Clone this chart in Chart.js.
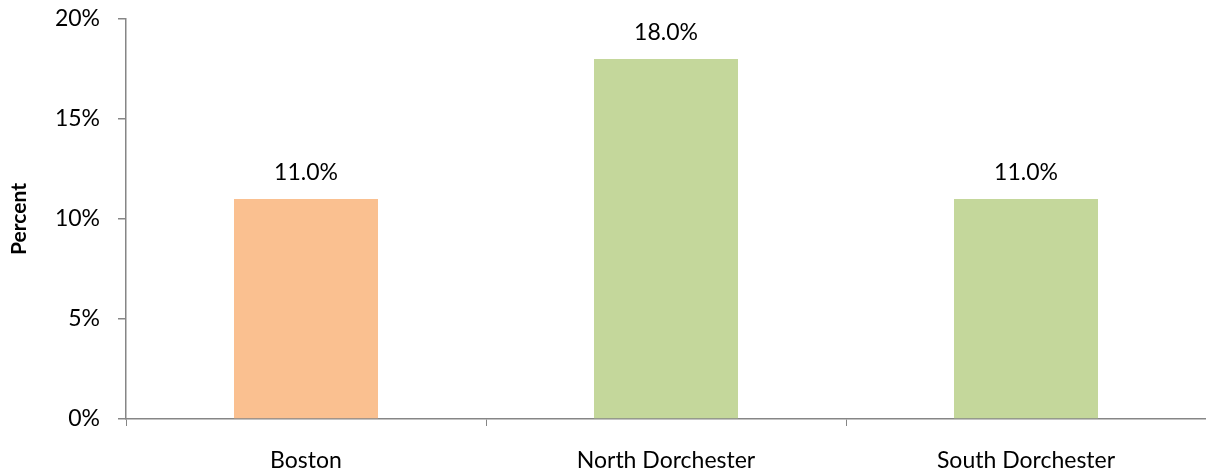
<!DOCTYPE html>
<html>
<head>
<meta charset="utf-8">
<script src="https://cdn.jsdelivr.net/npm/chart.js@4"></script>
<style>
  html, body { margin: 0; padding: 0; background: #fff; }
  #wrap { width: 1206px; height: 474px; }
</style>
</head>
<body>
<div id="wrap"><canvas id="bar-chart"></canvas></div>
<script>
var categories = ['Boston', 'North Dorchester', 'South Dorchester'];
var percentValues = [11.0, 18.0, 11.0];
var barColors = ['#FAC090', '#C4D79B', '#C4D79B'];
var yTicks = [0, 5, 10, 15, 20];

var axisGray = '#868686';
var fontFamily = 'Lato, "Liberation Sans", sans-serif';

const valueLabels = {
  id: 'valueLabels',
  afterDatasetsDraw: (chart) => {
    const {ctx} = chart;
    const meta = chart.getDatasetMeta(0);
    ctx.save();
    ctx.fillStyle = '#000';
    ctx.font = '23px ' + fontFamily;
    ctx.textAlign = 'center';
    ctx.textBaseline = 'alphabetic';
    meta.data.forEach(function(bar, i) {
      ctx.fillText(percentValues[i].toFixed(1) + '%', bar.x, bar.y - 19);
    });
    ctx.restore();
  }
};

var config = {
  type: 'bar',
  data: {
    labels: categories,
    datasets: [{
      data: percentValues,
      backgroundColor: barColors,
      borderWidth: 0,
      barPercentage: 0.4,
      categoryPercentage: 1.0
    }]
  },
  options: {
    responsive: true,
    maintainAspectRatio: false,
    animation: false,
    layout: {
      padding: { top: 19, right: 0, left: 0, bottom: 0 }
    },
    plugins: {
      legend: { display: false },
      tooltip: { enabled: false }
    },
    scales: {
      x: {
        grid: {
          offset: true,
          drawOnChartArea: false,
          drawTicks: true,
          tickLength: 7,
          color: axisGray,
          lineWidth: 1
        },
        border: { color: axisGray, width: 1.5 },
        ticks: {
          color: '#000',
          padding: 21,
          font: { family: fontFamily, size: 23 }
        },
        afterFit: function(axis) {
          axis.height = 55;
          axis.paddingLeft = 0;
          axis.paddingRight = 0;
        }
      },
      y: {
        min: 0,
        max: 20,
        afterBuildTicks: function(axis) {
          axis.ticks = yTicks.map(function(v) { return {value: v}; });
        },
        grid: {
          drawOnChartArea: false,
          drawTicks: true,
          tickLength: 8,
          color: axisGray,
          lineWidth: 1.5
        },
        border: { color: axisGray, width: 1.5 },
        ticks: {
          color: '#000',
          padding: 18,
          font: { family: fontFamily, size: 23 },
          callback: function(v) { return v + '%'; }
        },
        title: {
          display: true,
          text: 'Percent',
          color: '#000',
          padding: { top: 7, bottom: 4 },
          font: { family: fontFamily, size: 21, weight: 'bold' }
        },
        afterFit: function(axis) {
          axis.width = 126;
          axis.paddingTop = 0;
          axis.paddingBottom = 0;
        }
      }
    }
  },
  plugins: [valueLabels]
};

window.onload = function() {
  var ctx = document.getElementById('bar-chart').getContext('2d');
  window.myBar = new Chart(ctx, config);
};
</script>
</body>
</html>
